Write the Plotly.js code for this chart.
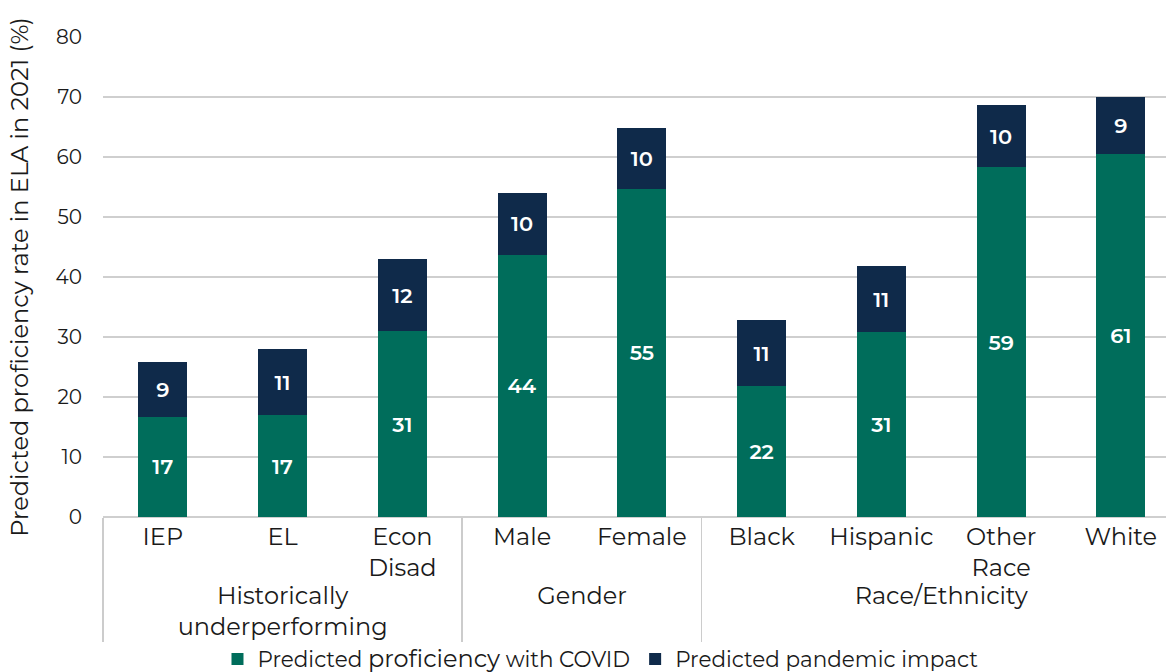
<!DOCTYPE html>
<html>
<head>
<meta charset="utf-8">
<script src="https://cdn.plot.ly/plotly-3.0.1.min.js"></script>
<style>html,body{margin:0;padding:0;background:#fff}#chart{width:1166px;height:672px}</style>
</head>
<body>
<div id="chart"></div>
<script>
var groups = ["Historically<br>underperforming","Historically<br>underperforming","Historically<br>underperforming","Gender","Gender","Race/Ethnicity","Race/Ethnicity","Race/Ethnicity","Race/Ethnicity"];
var categories = ["IEP","EL","Econ<br>Disad","Male","Female","Black","Hispanic","Other<br>Race","White"];
var withCovid = [16.7, 17.0, 31.0, 43.7, 54.7, 21.8, 30.8, 58.3, 60.5];
var pandemicImpact = [9.2, 11.0, 12.0, 10.3, 10.2, 11.0, 11.0, 10.3, 9.5];
var withCovidLabels = ["17","17","31","44","55","22","31","59","61"];
var pandemicLabels = ["9","11","12","10","10","11","11","10","9"];

var FONT = "Montserrat, 'Open Sans', sans-serif";
var traces = [
  {type:"bar", name:"Predicted <span style='font-size:24px'>proficiency</span> with COVID", x:[groups,categories], y:withCovid,
   text:withCovidLabels, textposition:"inside", insidetextanchor:"middle", textangle:0,
   textfont:{color:"#ffffff", size:21, family:FONT, weight:600},
   marker:{color:"#006d5b"}, hoverinfo:"skip"},
  {type:"bar", name:"Predicted pandemic impact", x:[groups,categories], y:pandemicImpact,
   text:pandemicLabels, textposition:"inside", insidetextanchor:"middle", textangle:0,
   textfont:{color:"#ffffff", size:21, family:FONT, weight:600},
   marker:{color:"#0f2a4a"}, hoverinfo:"skip"}
];
var layout = {
  width:1166, height:672,
  margin:{l:103, r:0, t:37, b:155},
  barmode:"stack", bargap:0.59,
  paper_bgcolor:"#fff", plot_bgcolor:"#fff",
  font:{family:FONT, size:21, color:"#1a1a1a"},
  showlegend:true,
  legend:{orientation:"h", x:0.515, xanchor:"center", xref:"container", y:0.05, yanchor:"top", yref:"container",
          bgcolor:"rgba(0,0,0,0)", traceorder:"normal", font:{size:21.5, family:FONT, color:"#1a1a1a"}, itemwidth:30},
  uniformtext:{mode:"show", minsize:12},
  xaxis:{type:"multicategory", range:[-0.5, 8.377], showgrid:false, zeroline:false, automargin:false,
         showline:false, ticks:"", showdividers:true, dividercolor:"#cccccc", dividerwidth:1.5,
         ticklabelstandoff:3,
         tickfont:{size:24, family:FONT, color:"#1a1a1a"}},
  yaxis:{range:[0,80], dtick:10, showgrid:true, gridcolor:"#cfcfcf", gridwidth:1.5, automargin:false,
         zeroline:true, zerolinecolor:"#cfcfcf", zerolinewidth:1.5, showline:false, ticks:"",
         ticklen:0, ticklabelstandoff:20, tickfont:{size:20, family:FONT, color:"#1a1a1a"},
         title:{text:"Predicted proficiency rate in ELA in 2021 (%)", standoff:20,
                font:{size:24, family:FONT, color:"#1a1a1a"}}}
};
Plotly.newPlot("chart", traces, layout, {displayModeBar:false, staticPlot:true});
</script>
</body>
</html>
